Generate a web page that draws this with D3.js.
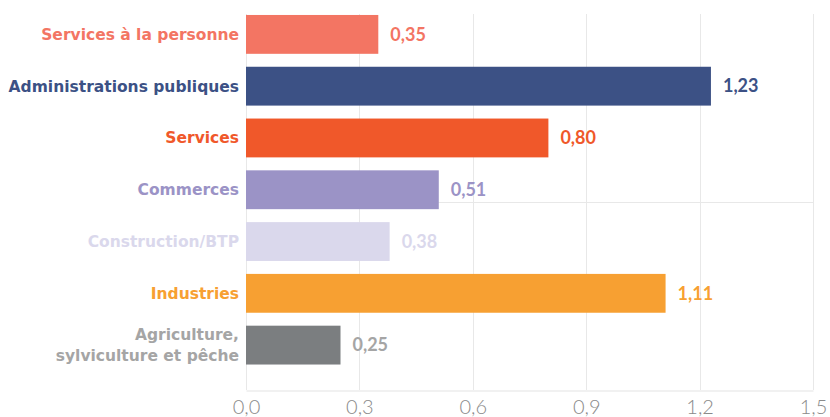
<!DOCTYPE html>
<html>
<head>
<meta charset="utf-8">
<script src="https://cdn.jsdelivr.net/npm/d3@7"></script>
<style>
  html, body { margin: 0; padding: 0; background: #fff; }
  svg { display: block; }
</style>
</head>
<body>
<div id="chart"></div>
<script>
const categories = [
  'Services à la personne',
  'Administrations publiques',
  'Services',
  'Commerces',
  'Construction/BTP',
  'Industries',
  'Agriculture,\nsylviculture et pêche'
];
const values = [0.35, 1.23, 0.80, 0.51, 0.38, 1.11, 0.25];
const barColors = ['#F37563', '#3C5185', '#F0582A', '#9B93C6', '#DAD8EC', '#F7A032', '#7B7E80'];
const labelColors = ['#F37563', '#3C5185', '#F0582A', '#9B93C6', '#DAD8EC', '#F7A032', '#A5A5A5'];
const xTicks = [0, 0.3, 0.6, 0.9, 1.2, 1.5];

const width = 830;
const height = 417;
const plot = { left: 246, right: 813, top: 14, bottom: 390 };

const svg = d3.select('#chart')
  .append('svg')
  .attr('width', width)
  .attr('height', height);

const x = d3.scaleLinear()
  .domain([0, 1.5])
  .range([plot.left, plot.right]);

const y = d3.scaleBand()
  .domain(categories)
  .range([8.5, 371])
  .paddingInner(0.25)
  .paddingOuter(0.125);

const fmt = v => d3.format('.2f')(v).replace('.', ',');
const fmtTick = v => d3.format('.1f')(v).replace('.', ',');

// grid
const grid = svg.append('g').attr('stroke', '#E8E8E8').attr('stroke-width', 1);
grid.selectAll('line.v')
  .data(xTicks)
  .enter()
  .append('line')
  .attr('class', 'v')
  .attr('x1', d => Math.round(x(d)) + 0.5)
  .attr('x2', d => Math.round(x(d)) + 0.5)
  .attr('y1', plot.top)
  .attr('y2', plot.bottom);
grid.append('line')
  .attr('x1', plot.left).attr('x2', plot.right)
  .attr('y1', (plot.top + plot.bottom) / 2 + 0.5)
  .attr('y2', (plot.top + plot.bottom) / 2 + 0.5);

// x axis
const xAxis = svg.append('g')
  .attr('transform', `translate(0,${plot.bottom + 0.5})`)
  .call(d3.axisBottom(x).tickValues(xTicks).tickFormat(fmtTick).tickSize(0).tickPadding(9));
xAxis.select('.domain').attr('stroke', '#E3E3E3');
xAxis.selectAll('text')
  .attr('fill', '#8A8A8A')
  .attr('font-family', 'Lato, sans-serif')
  .attr('font-weight', 300)
  .attr('font-size', 20);

// bars
svg.selectAll('.bar')
  .data(categories)
  .enter()
  .append('rect')
  .attr('class', 'bar')
  .attr('x', x(0))
  .attr('y', d => y(d))
  .attr('width', (d, i) => x(values[i]) - x(0))
  .attr('height', y.bandwidth())
  .attr('fill', (d, i) => barColors[i]);

// category labels
const cat = svg.selectAll('.cat')
  .data(categories)
  .enter()
  .append('text')
  .attr('class', 'cat')
  .attr('x', plot.left - 7)
  .attr('y', d => y(d) + y.bandwidth() / 2)
  .attr('text-anchor', 'end')
  .attr('font-family', '"DejaVu Sans", sans-serif')
  .attr('font-weight', 700)
  .attr('font-size', 15.5)
  .attr('fill', (d, i) => labelColors[i]);

cat.each(function (d) {
  const lines = d.split('\n');
  const t = d3.select(this);
  lines.forEach((line, k) => {
    t.append('tspan')
      .attr('x', plot.left - 7)
      .attr('dy', k === 0 ? `${0.35 - (lines.length - 1) * 0.65}em` : '1.35em')
      .text(line);
  });
});

// value labels
svg.selectAll('.val')
  .data(categories)
  .enter()
  .append('text')
  .attr('class', 'val')
  .attr('x', (d, i) => x(values[i]) + 12)
  .attr('y', d => y(d) + y.bandwidth() / 2)
  .attr('dy', '0.35em')
  .attr('font-family', 'Lato, sans-serif')
  .attr('font-weight', 700)
  .attr('font-size', 18)
  .attr('fill', (d, i) => labelColors[i])
  .text((d, i) => fmt(values[i]));
</script>
</body>
</html>
